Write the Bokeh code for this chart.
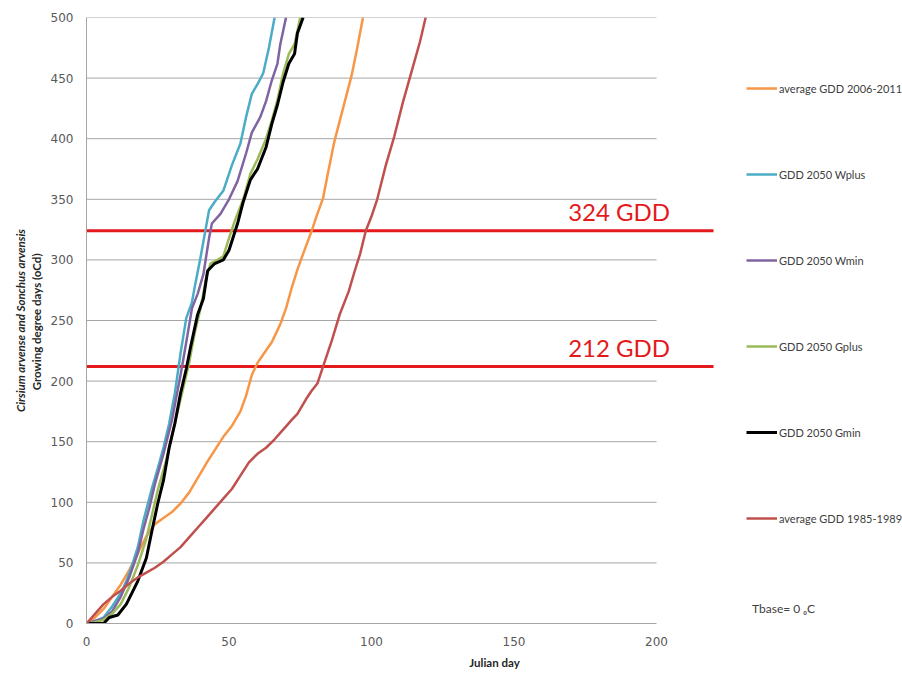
from bokeh.plotting import figure
from bokeh.models import Range1d, FixedTicker, LinearAxis, Legend, LegendItem, Label
from bokeh.embed import file_html
from bokeh.resources import INLINE

# ---- data ----
y_ticks = [0, 50, 100, 150, 200, 250, 300, 350, 400, 450, 500]
x_ticks = [0, 50, 100, 150, 200]
thresholds = [324, 212]

avg_2006_days = [0, 3, 6, 9, 12, 15, 18, 21, 24, 27, 30, 33, 36, 39, 42, 45, 48, 51, 54, 56, 58, 60, 62, 65, 68, 70, 72, 74, 76, 79, 81, 83, 85, 87, 90, 93, 95, 97]
avg_2006_gdd = [0, 5, 12, 22, 32, 44, 58, 72, 82, 87, 92, 99, 108, 120, 132, 143, 154, 163, 175, 188, 205, 215, 222, 232, 247, 260, 277, 292, 305, 324, 338, 351, 375, 398, 425, 452, 475, 500]

wplus_days = [0, 3, 6, 9, 12, 14, 16, 18, 20, 23, 25, 27, 29, 31, 33, 35, 37, 38, 40, 42, 43, 45, 48, 51, 54, 56, 58, 60, 62, 64, 66]
wplus_gdd = [0, 2, 5, 14, 25, 35, 48, 63, 85, 112, 128, 145, 165, 190, 223, 252, 265, 278, 302, 328, 341, 348, 357, 378, 396, 418, 437, 445, 454, 475, 500]

wmin_days = [0, 3, 6, 9, 12, 15, 18, 20, 22, 24, 27, 30, 33, 35, 37, 39, 41, 43, 44, 47, 50, 53, 56, 58, 61, 63, 65, 67, 68, 70]
wmin_gdd = [0, 2, 4, 10, 22, 38, 58, 78, 95, 115, 140, 168, 205, 232, 260, 272, 288, 318, 330, 338, 350, 365, 388, 405, 418, 431, 448, 462, 478, 500]

gplus_days = [0, 3, 6, 9, 12, 15, 18, 21, 23, 25, 28, 31, 34, 36, 38, 40, 42, 43.5, 46, 48, 50, 52, 55, 57.5, 60, 63, 65, 67, 69, 71, 73, 75]
gplus_gdd = [0, 1, 3, 8, 16, 30, 48, 70, 90, 110, 135, 165, 195, 215, 240, 260, 285, 297, 300, 303, 318, 332, 350, 371, 383, 400, 415, 432, 454, 470, 478, 500]

gmin_days = [0, 6, 8, 11, 14, 18, 21, 23, 25, 27, 29, 31, 33, 35, 36.5, 39, 41, 42.5, 45, 48, 50, 53, 55, 57.5, 60, 63, 65, 67, 69, 71, 73, 74, 76]
gmin_gdd = [0, 0, 5, 7, 16, 35, 54, 77, 99, 118, 145, 165, 190, 210, 228, 255, 268, 291, 297, 300, 308, 330, 348, 366, 375, 393, 412, 428, 447, 462, 470, 487, 500]

avg_1985_days = [0, 3, 6, 9, 12, 15, 18, 21, 24, 27, 30, 33, 36, 39, 42, 45, 48, 51, 54, 57, 60, 63, 66, 69, 72, 74, 77, 79, 81, 83, 86, 89, 92, 94, 96, 98, 100, 102, 105, 108, 111, 114, 117, 119]
avg_1985_gdd = [0, 8, 16, 22, 27, 33, 38, 42, 46, 51, 57, 63, 71, 79, 87, 95, 103, 111, 122, 133, 140, 145, 152, 160, 168, 173, 185, 192, 198, 212, 233, 256, 274, 290, 305, 324, 336, 350, 378, 402, 430, 455, 480, 500]

series = [
    ("average GDD 2006-2011", avg_2006_days, avg_2006_gdd, "#F79646", 2.5),
    ("GDD 2050 Wplus", wplus_days, wplus_gdd, "#4BACC6", 2.5),
    ("GDD 2050 Wmin", wmin_days, wmin_gdd, "#8064A2", 2.5),
    ("GDD 2050 Gplus", gplus_days, gplus_gdd, "#9BBB59", 2.5),
    ("GDD 2050 Gmin", gmin_days, gmin_gdd, "#000000", 3),
    ("average GDD 1985-1989", avg_1985_days, avg_1985_gdd, "#C0504D", 2.5),
]

GRID = "#A6A6A6"
TXT = "#595959"
RED = "#E3191C"

p = figure(width=902, height=675, x_range=Range1d(0, 286.3), y_range=Range1d(0, 500),
           output_backend="svg", toolbar_location=None,
           min_border_left=86, min_border_right=0, min_border_top=17, min_border_bottom=52)
p.grid.visible = False
p.outline_line_color = None
p.background_fill_color = "white"

# y axis
p.yaxis.ticker = FixedTicker(ticks=y_ticks)
p.yaxis.axis_line_color = GRID
p.yaxis.major_tick_line_color = None
p.yaxis.minor_tick_line_color = None
p.yaxis.major_tick_out = 0
p.yaxis.major_label_text_font = "DejaVu Sans"
p.yaxis.major_label_text_font_size = "12px"
p.yaxis.major_label_text_color = TXT
p.yaxis.major_label_standoff = 13
p.yaxis.axis_label = "Growing degree days  (oCd)"
p.yaxis.axis_label_text_font = "Lato"
p.yaxis.axis_label_text_font_style = "bold"
p.yaxis.axis_label_text_font_size = "11.5px"
p.yaxis.axis_label_text_color = "#262626"
p.yaxis.axis_label_standoff = 5

ax2 = LinearAxis(ticker=FixedTicker(ticks=[]), axis_line_color=None,
                 major_tick_line_color=None, minor_tick_line_color=None,
                 major_tick_out=0, major_label_text_font_size="0px",
                 axis_label="Cirsium arvense and Sonchus arvensis",
                 axis_label_text_font="Lato", axis_label_text_font_style="bold italic",
                 axis_label_text_font_size="11.5px", axis_label_text_color="#262626",
                 axis_label_standoff=0)
p.add_layout(ax2, "left")

# x axis
p.xaxis.ticker = FixedTicker(ticks=x_ticks)
p.xaxis.bounds = (0, 200)
p.xaxis.axis_line_color = GRID
p.xaxis.major_tick_line_color = None
p.xaxis.minor_tick_line_color = None
p.xaxis.major_tick_out = 0
p.xaxis.major_label_text_font = "DejaVu Sans"
p.xaxis.major_label_text_font_size = "12px"
p.xaxis.major_label_text_color = TXT
p.xaxis.major_label_standoff = 13
p.xaxis.axis_label = "Julian day"
p.xaxis.axis_label_text_font = "Lato"
p.xaxis.axis_label_text_font_style = "bold"
p.xaxis.axis_label_text_font_size = "11.5px"
p.xaxis.axis_label_text_color = "#262626"
p.xaxis.axis_label_standoff = 7

# gridlines limited to day 0-200
grid_vals = y_ticks[1:]
p.segment(x0=[x_ticks[0]] * len(grid_vals), x1=[x_ticks[-1]] * len(grid_vals),
          y0=grid_vals, y1=grid_vals, line_color=GRID, line_width=1)

# threshold lines
p.segment(x0=[0] * len(thresholds), x1=[220] * len(thresholds), y0=thresholds, y1=thresholds,
          line_color=RED, line_width=3)

items = []
for name, xs, ys, col, lw in series:
    r = p.line(xs, ys, line_color=col, line_width=lw, line_join="round")
    items.append(LegendItem(label=name, renderers=[r]))

for t in thresholds:
    p.add_layout(Label(x=169, y=t, y_offset=5, text=f"{t} GDD", text_font="Lato",
                       text_font_size="24px", text_color=RED, text_baseline="bottom"))

p.add_layout(Label(x=233.5, y=12, text="Tbase= 0 \u2092C", text_font="Lato",
                   text_font_size="12px", text_color="#404040", text_baseline="middle"))

legend = Legend(items=items, location=(660, 95), orientation="vertical",
                label_text_font="Lato", label_text_font_size="11px", label_text_color="#404040",
                glyph_width=31, glyph_height=20, label_height=20, label_standoff=2,
                spacing=66, padding=0, margin=0, border_line_color=None,
                background_fill_alpha=0)
p.add_layout(legend)

open("out.html", "w").write(file_html(p, INLINE))
